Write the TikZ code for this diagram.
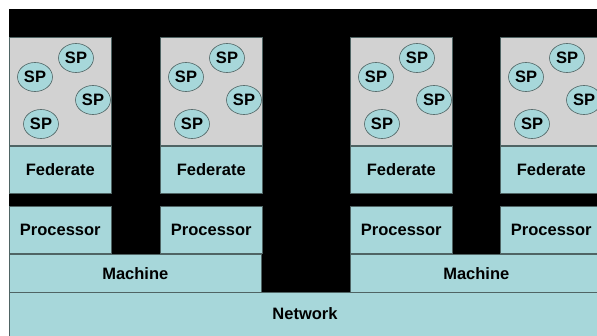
\documentclass[tikz,border=0pt]{standalone}
\usepackage{fontspec}
\setmainfont{Liberation Sans}
\usetikzlibrary{positioning,shapes.geometric}
\definecolor{lteal}{HTML}{A7D7DA}
\definecolor{lgray}{HTML}{D2D2D2}
\definecolor{edgegray}{HTML}{4F6464}
\tikzset{
  layer/.style={draw=edgegray,fill=lteal,line width=0.6pt,inner sep=0,font=\fontsize{16.5}{20}\selectfont\bfseries},
  spbox/.style={draw=edgegray,fill=lgray,line width=0.6pt,inner sep=0},
  sp/.style={ellipse,draw=edgegray,fill=lteal,line width=0.6pt,inner sep=0,minimum width=35pt,minimum height=29pt,font=\fontsize{16.5}{20}\selectfont\bfseries},
}

\begin{document}
\begin{tikzpicture}[x=1pt,y=-1pt]
  \useasboundingbox (0,0) rectangle (597,335);
  \fill[black] (9,9) rectangle (597,335);
  % --- four federate stacks
  \foreach \xo [count=\ix] in {9,160,350,500} {
    \node[spbox,minimum width=102pt,minimum height=108pt,anchor=north west] (pool\ix) at (\xo,37) {};
    \node[layer,minimum width=102pt,minimum height=47pt,anchor=north] (fed\ix) at (pool\ix.south) {Federate};
    \node[layer,minimum width=102pt,minimum height=47pt,below=13pt of fed\ix] (proc\ix) {Processor};
    \foreach \dx/\dy [count=\k] in {67/58, 26/77, 84/100, 32/124}
      \node[sp] (sp\ix\k) at (\xo+\dx,\dy) {SP};
  }
  % --- machines and network
  \node[layer,minimum width=252pt,minimum height=38pt,anchor=north west] (mach1) at (proc1.south west) {Machine};
  \node[layer,minimum width=252pt,minimum height=38pt,anchor=north west] (mach2) at (proc3.south west) {Machine};
  \node[layer,minimum width=600pt,minimum height=45pt,anchor=north west] (net) at (mach1.south west) {};
  \node[font=\fontsize{16.5}{20}\selectfont\bfseries] (netlbl) at (305,314) {Network};
\end{tikzpicture}
\end{document}
